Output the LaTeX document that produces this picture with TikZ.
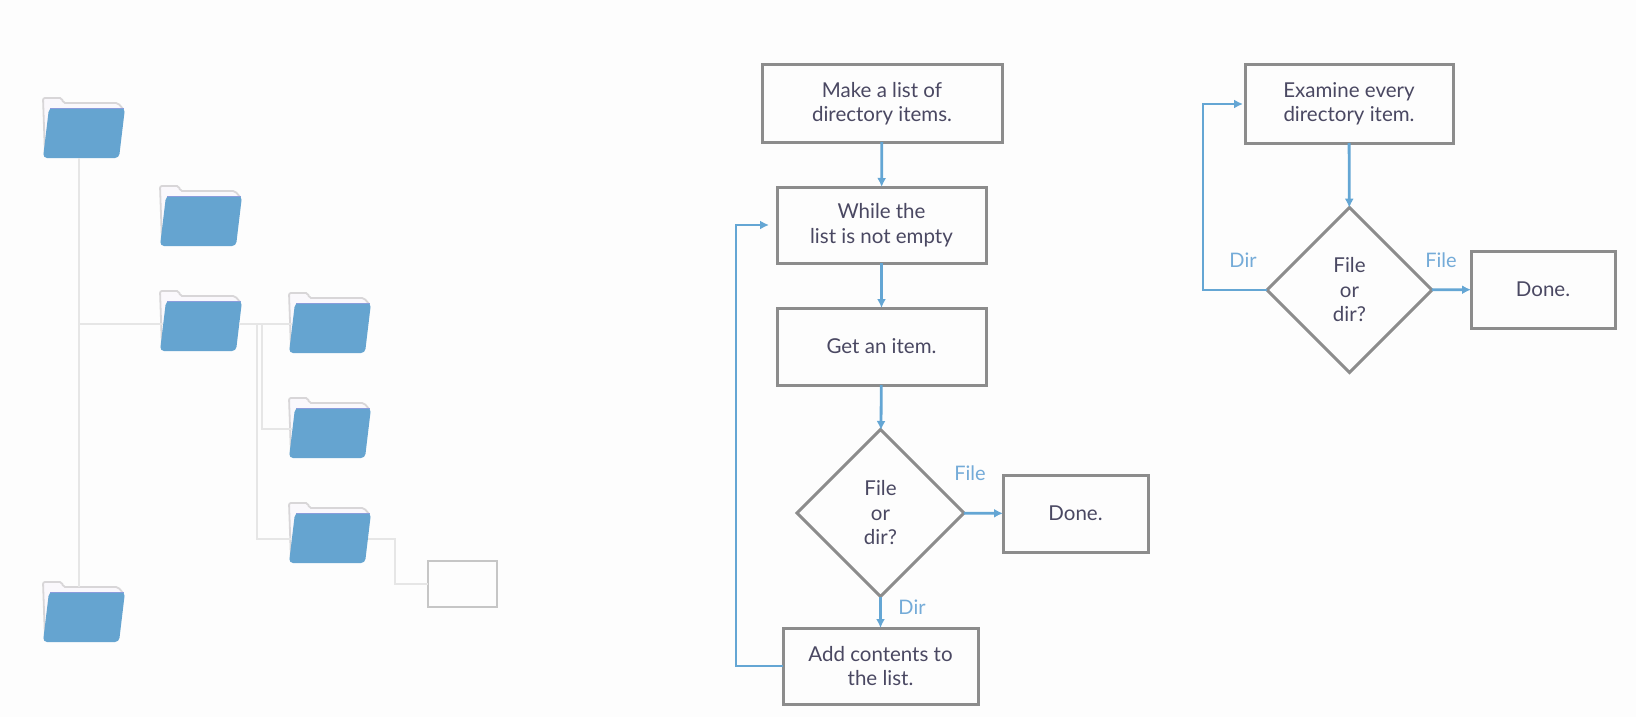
\documentclass[tikz,border=0pt]{standalone}
\usepackage{fontspec}
\setmainfont{Lato}
\usetikzlibrary{arrows.meta,shapes.geometric}
\definecolor{pagewhite}{HTML}{FDFDFD}
\definecolor{boxgray}{HTML}{8C8C8C}
\definecolor{inkdark}{HTML}{4A4862}
\definecolor{flowblue}{HTML}{64A6D4}
\definecolor{tagblue}{HTML}{74ABD8}
\definecolor{folderblue}{HTML}{65A4D0}
\definecolor{foldertop}{HTML}{8A9CDC}
\definecolor{folderback}{HTML}{D8D6D8}
\definecolor{folderpale}{HTML}{FAF8FC}
\definecolor{treegray}{HTML}{E6E6E6}
\definecolor{blankgray}{HTML}{C6C6C6}
\tikzset{
  folder/.pic={
    \draw[folderback,line width=1.8pt,fill=folderpale,rounded corners=2pt] (3,58)--(1,1)--(20,1)--(21,6)--(76,6)--(81,12);
    \fill[folderblue,rounded corners=4pt] (7,11)--(83,11)--(77,61)--(1,61)--cycle;
    \draw[foldertop,line width=1pt] (8,11)--(82,11);
    \node[inner sep=0,outer sep=0,minimum width=76pt,minimum height=50pt] (-body) at (42,36) {};
  }
}
\begin{document}
\begin{tikzpicture}[x=1pt,y=-1pt,
    box/.style={rectangle,draw=boxgray,line width=3pt,outer sep=0,inner sep=0,align=center,
      text=inkdark,font=\fontsize{20.5}{24.5}\selectfont},
    choice/.style={box,diamond,aspect=1},
    flow/.style={draw=flowblue,line width=2.8pt,-{Latex[length=9pt,width=9pt]}},
    back/.style={flow,shorten >=8pt},
    tag/.style={text=tagblue,font=\fontsize{20}{22}\selectfont,inner sep=0},
    tree/.style={draw=treegray,line width=1.8pt}]
\path[fill=pagewhite,use as bounding box] (0,0) rectangle (1636,717);

% folders
\pic (f1) at (42,97) {folder};
\pic (f2) at (159,185) {folder};
\pic (f3) at (159,290) {folder};
\pic (f4) at (288,292) {folder};
\pic (f5) at (288,397) {folder};
\pic (f6) at (288,502) {folder};
\pic (f7) at (42,581) {folder};
\node[rectangle,draw=blankgray,line width=2pt,minimum width=69pt,minimum height=46pt,outer sep=0] (blank) at (462.5,584) {};

\coordinate (trunk) at (79,324);
\coordinate (branchA) at (257,324);
\coordinate (branchB) at (262,324);
\coordinate (tapE) at (262,429);
\coordinate (tapF) at (257,539);
\coordinate (bend) at (395,584);

\draw[tree,shorten >=5pt] (f1-body.south -| trunk)--(f7-body.north -| trunk);
\draw[tree] (trunk)--(trunk -| f3-body.west);
\draw[tree] (branchA -| f3-body.east)--(branchA -| f4-body.west);
\draw[tree] (branchB)--(tapE)--(tapE -| f5-body.west);
\draw[tree] (branchA)--(tapF)--(tapF -| f6-body.west);
\draw[tree] (tapF -| f6-body.east)-|(bend)--(blank.west);

% first chart
\node[box,minimum width=240pt,minimum height=77pt] (make) at (882,103.5) {Make a list of\\directory items.};
\node[box,minimum width=209pt,minimum height=76pt] (while) at (881.5,225) {While the\\list is not empty};
\node[box,minimum width=209pt,minimum height=77pt] (get) at (881.5,346.5) {Get an item.};
\node[choice,minimum width=167pt,minimum height=167pt] (kind) at (880.5,513) {File\\or\\dir?};
\node[box,minimum width=145pt,minimum height=77pt] (done) at (1075.5,513.5) {Done.};
\node[box,minimum width=195pt,minimum height=76pt] (add) at (880.5,666) {Add contents to\\the list.};
\node[tag] (kindfile) at (970,473) {File};
\node[tag] (kinddir) at (912,607) {Dir};
\coordinate (loopA) at (736,666);

\draw[flow](make)--(while);
\draw[flow](while)--(get);
\draw[flow](get)--(kind);
\draw[flow](kind)--(done);
\draw[flow](kind)--(add);
\draw[back](add.west)--(loopA)|-(while.west);

% second chart
\node[box,minimum width=208pt,minimum height=78pt] (examine) at (1349,104) {Examine every\\directory item.};
\node[choice,minimum width=165pt,minimum height=165pt] (sort) at (1349.5,290) {File\\or\\dir?};
\node[box,minimum width=144pt,minimum height=77pt] (finish) at (1543,289.5) {Done.};
\node[tag] (sortfile) at (1441,260) {File};
\node[tag] (sortdir) at (1243,260) {Dir};
\coordinate (loopB) at (1203,290);

\draw[flow](examine)--(sort);
\draw[flow](sort)--(finish);
\draw[flow,shorten >=2pt](sort.west)--(loopB)|-(examine.west);
\end{tikzpicture}
\end{document}
